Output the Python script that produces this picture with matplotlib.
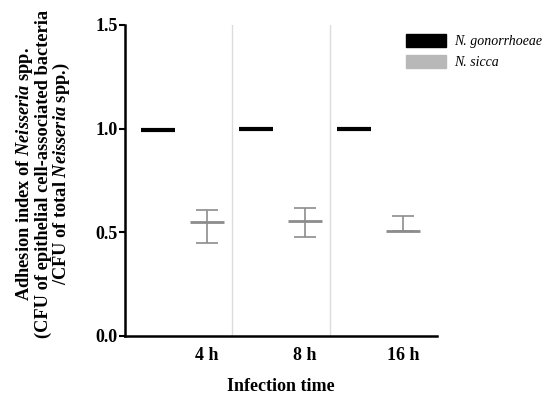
import numpy as np
from matplotlib import pyplot as plt
from matplotlib.patches import Patch

plt.rcParams['font.family'] = ['Liberation Serif', 'DejaVu Serif']
plt.rcParams['font.weight'] = 'bold'
plt.rcParams['axes.labelweight'] = 'bold'
plt.rcParams['mathtext.fontset'] = 'custom'
plt.rcParams['mathtext.it'] = 'Liberation Serif:italic:bold'
plt.rcParams['mathtext.rm'] = 'Liberation Serif:bold'

times = ["4 h", "8 h", "16 h"]
gono_mean = [0.995, 1.0, 1.0]
sicca_mean = [0.549, 0.555, 0.505]
sicca_err_low = [0.10, 0.078, 0.0]
sicca_err_high = [0.058, 0.062, 0.075]

x = np.arange(1, len(times) + 1)
half = 0.17

fig = plt.figure(figsize=(5.5, 3.96), dpi=100)
ax = fig.add_axes([0.227, 0.152, 0.568, 0.785])

for sep in x[:-1] + 0.255:
    ax.axvline(sep, color='#dcdcdc', lw=1, zorder=0)

ax.hlines(gono_mean, x - 0.5 - half, x - 0.5 + half, color='black', lw=3)
ax.hlines(sicca_mean, x - half, x + half, color='#8c8c8c', lw=2)
ax.errorbar(x, sicca_mean, yerr=[sicca_err_low, sicca_err_high], fmt='none',
            ecolor='#8c8c8c', elinewidth=1.2, capsize=8, capthick=1.2)

ax.set_xlim(0.16, 3.35)
ax.set_ylim(0, 1.5)
ax.set_yticks([0, 0.5, 1.0, 1.5])
ax.set_yticklabels(["0.0", "0.5", "1.0", "1.5"])
ax.set_xticks(x)
ax.set_xticklabels(times)
ax.tick_params(axis='x', length=0, pad=8, labelsize=13)
ax.tick_params(axis='y', length=4, width=1.5, labelsize=13, pad=1)
for s in ['top', 'right']:
    ax.spines[s].set_visible(False)
for s in ['left', 'bottom']:
    ax.spines[s].set_linewidth(1.8)

ax.set_xlabel("Infection time", fontsize=13, labelpad=10, fontweight='bold')
ax.set_ylabel("Adhesion index of $Neisseria$ spp.\n"
              "(CFU of epithelial cell-associated bacteria\n"
              "/CFU of total $Neisseria$ spp.)",
              fontsize=13.2, linespacing=0.95, fontweight='bold')
ax.yaxis.set_label_coords(-0.168, 0.52)

handles = [Patch(color='black'), Patch(color='#b8b8b8')]
fig.legend(handles, ["N. gonorrhoeae", "N. sicca"], loc='upper left',
           bbox_to_anchor=(0.715, 0.945), frameon=False,
           prop={'style': 'italic', 'weight': 'normal', 'size': 10},
           handlelength=2.9, handleheight=1.0, labelspacing=0.5,
           handletextpad=0.6)

plt.savefig("out.png")
